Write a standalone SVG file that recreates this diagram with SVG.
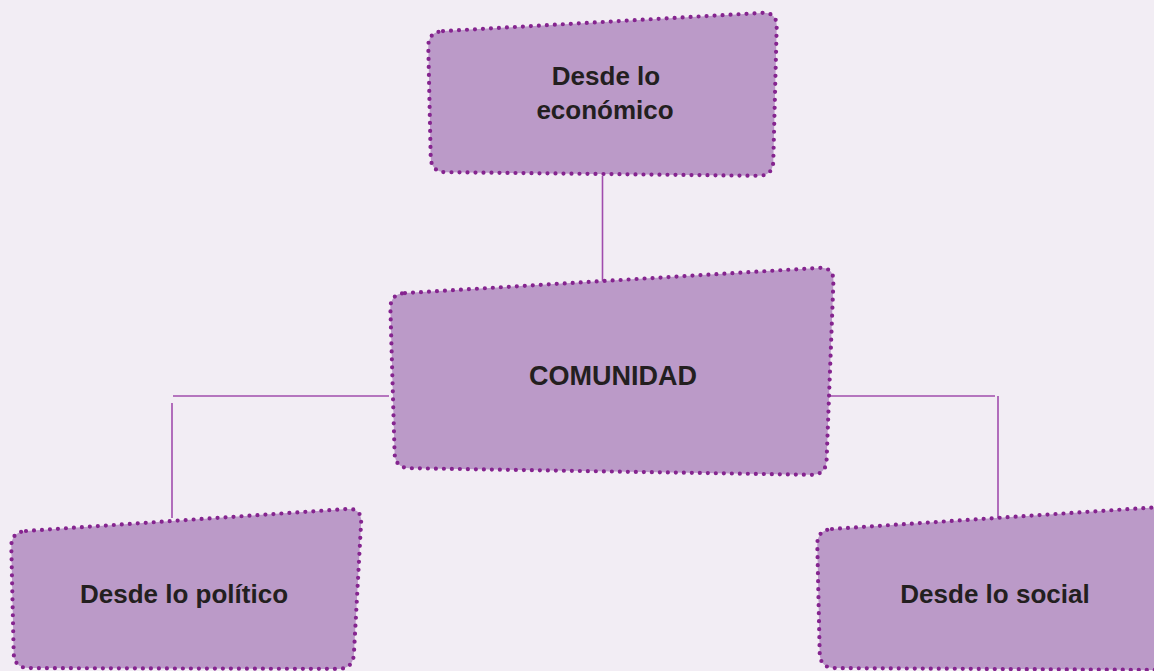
<svg xmlns="http://www.w3.org/2000/svg" width="1154" height="671" viewBox="0 0 1154 671">
<style>
.bg{fill:#f2edf4}
.node{fill:#bb9ac8;stroke:#85248f;stroke-width:4.2;stroke-dasharray:0 8;stroke-linecap:round;stroke-linejoin:round}
.conn{stroke:#a04cad;stroke-width:1.6;fill:none}
.lbl{font-family:"Liberation Sans",Arial,sans-serif;font-weight:bold;font-size:26px;fill:#231f20;text-anchor:middle}
</style>
<rect class="bg" x="0" y="0" width="1154" height="671"/>
<g id="connectors">
<line class="conn" x1="602.5" y1="176" x2="602.5" y2="281"/>
<line class="conn" x1="173" y1="396" x2="389" y2="396"/>
<line class="conn" x1="172" y1="403" x2="172" y2="518"/>
<line class="conn" x1="830" y1="396" x2="995" y2="396"/>
<line class="conn" x1="998" y1="396" x2="998" y2="518"/>
</g>
<g id="node-economico">
<path class="node" d="M443,31.1 L762,12.9 Q777,12 776.7,27 L773.3,161 Q773,176 758,175.8 L446,172.2 Q431,172 430.7,157 L428.3,47 Q428,32 443,31.1 Z"/>
<text class="lbl" x="606" y="85">Desde lo</text>
<text class="lbl" x="605" y="119">económico</text>
</g>
<g id="node-comunidad">
<path class="node" d="M405,293.1 L819,267.9 Q834,267 833.4,282 L826.6,460 Q826,475 811,474.8 L410,468.2 Q395,468 394.6,453 L390.4,309 Q390,294 405,293.1 Z"/>
<text class="lbl" x="613" y="385" style="font-size:27px">COMUNIDAD</text>
</g>
<g id="node-politico">
<path class="node" d="M26,531 L347,509 Q362,508 361.1,523 L353.9,654 Q353,669 338,668.9 L29,668.1 Q14,668 13.7,653 L11.3,547 Q11,532 26,531 Z"/>
<text class="lbl" x="184" y="603">Desde lo político</text>
</g>
<g id="node-social">
<path class="node" d="M832,529 L1175,506 L1175,670 L835,668.1 Q820,668 819.7,653 L817.3,545 Q817,530 832,529 Z"/>
<text class="lbl" x="995" y="603">Desde lo social</text>
</g>
</svg>
